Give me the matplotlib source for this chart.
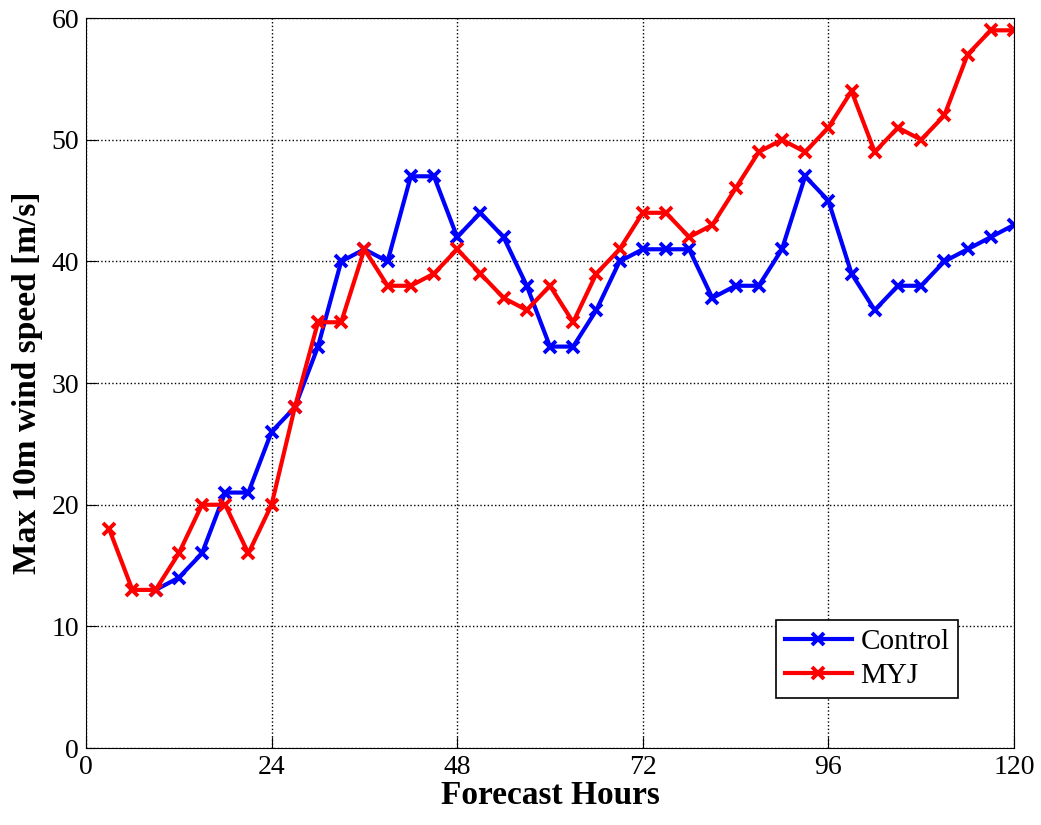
import numpy as np
import matplotlib
matplotlib.use("Agg")
import matplotlib.pyplot as plt

plt.rcParams['font.family'] = ['Liberation Serif', 'DejaVu Serif']

# forecast hours and max wind speed per run
hours_myj = np.arange(3, 121, 3)
myj = [18, 13, 13, 16, 20, 20, 16, 20, 28, 35, 35, 41, 38, 38, 39, 41, 39, 37, 36, 38,
       35, 39, 41, 44, 44, 42, 43, 46, 49, 50, 49, 51, 54, 49, 51, 50, 52, 57, 59, 59]

hours_ctl = np.arange(9, 121, 3)
control = [13, 14, 16, 21, 21, 26, 28, 33, 40, 41, 40, 47, 47, 42, 44, 42, 38, 33, 33,
           36, 40, 41, 41, 41, 37, 38, 38, 41, 47, 45, 39, 36, 38, 38, 40, 41, 42, 43]

x_ticks = [0, 24, 48, 72, 96, 120]
y_ticks = [0, 10, 20, 30, 40, 50, 60]


def main():
    fig = plt.figure(figsize=(10.41, 8.25), dpi=100)
    ax = fig.add_axes([0.0826, 0.0933, 0.8914, 0.8847])

    ax.plot(hours_ctl, control, color='#0000ff', lw=3, marker='x', ms=8, mew=2.8, label='Control')
    ax.plot(hours_myj, myj, color='#ff0000', lw=3, marker='x', ms=8, mew=2.8, label='MYJ')

    ax.set_xlim(0, 120)
    ax.set_ylim(0, 60)
    ax.set_xticks(x_ticks)
    ax.set_yticks(y_ticks)
    ax.tick_params(labelsize=20, direction='in', length=8, pad=5)
    ax.grid(True, linestyle=':', color='black', lw=1)

    ax.set_xlabel('Forecast Hours', fontsize=24, fontweight='bold', labelpad=0)
    ax.set_ylabel('Max 10m wind speed [m/s]', fontsize=24, fontweight='bold', labelpad=6)

    leg = ax.legend(loc='lower right', bbox_to_anchor=(0.94, 0.069), fontsize=21,
                    fancybox=False, framealpha=1, edgecolor='black', handlelength=2.3,
                    borderpad=0.3, labelspacing=0.25, handletextpad=0.3, borderaxespad=0)
    leg.get_frame().set_linewidth(1.2)

    fig.savefig('out.png', dpi=100)


if __name__ == "__main__":
    main()
